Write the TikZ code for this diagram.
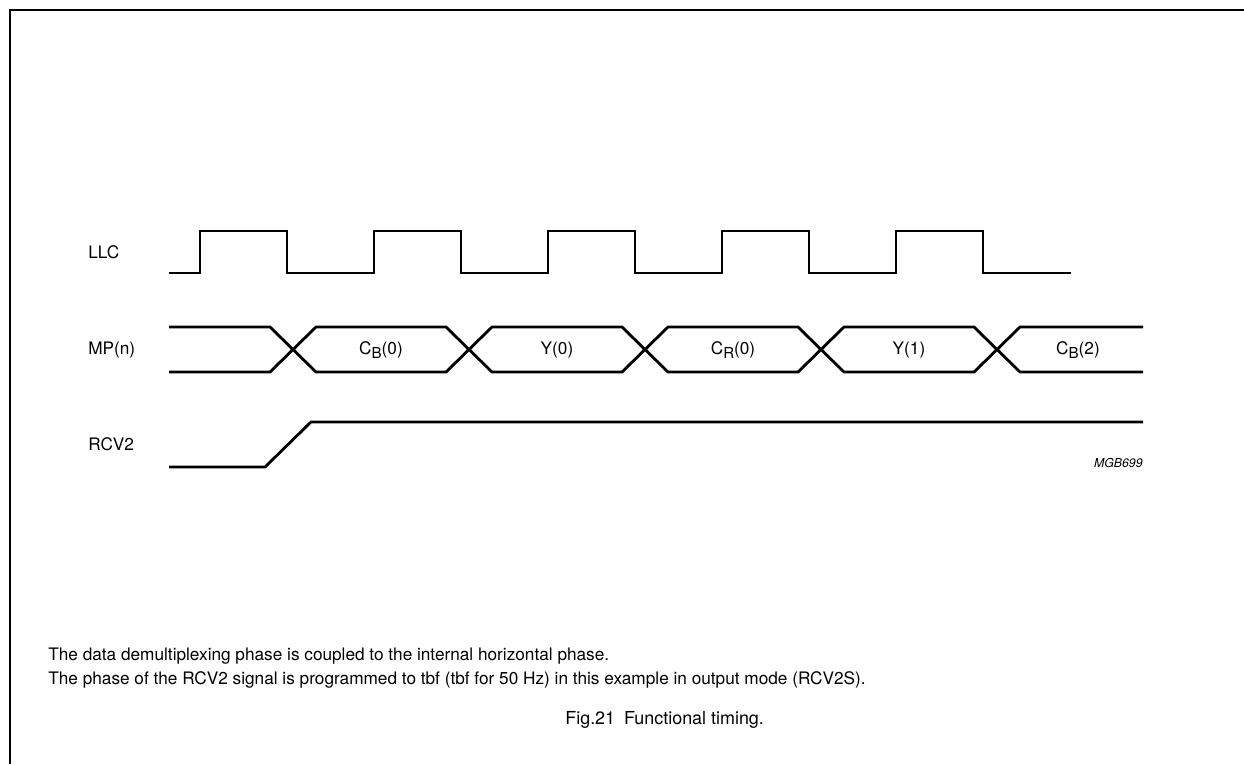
\documentclass[tikz,border=0pt]{standalone}
\usepackage{fontspec}
\setmainfont{TeX Gyre Heros}
\usepackage{tikz}
\usetikzlibrary{positioning}

\newcommand{\busidx}[1]{\raisebox{-0.45ex}{\fontsize{8.6}{10}\selectfont #1}}

\tikzset{
  wave/.style={line width=1.6pt, line join=miter},
  siglabel/.style={anchor=base west, inner sep=0pt, font=\fontsize{9.8}{12}\selectfont},
  buslabel/.style={inner sep=0pt, font=\fontsize{9.8}{12}\selectfont},
  note/.style={anchor=base west, inner sep=0pt, font=\fontsize{9.8}{12}\selectfont}
}

\begin{document}
\begin{tikzpicture}[x=0.02cm, y=-0.02cm]
  \useasboundingbox (0,0) rectangle (1244,764);

  % frame
  \draw[line width=1.6pt] (10,764) -- (10,10) -- (1244,10);

  % signal names
  \node[siglabel] (llc) at (88,258) {LLC};
  \node[siglabel] (mpn) at (88,354) {MP(n)};
  \node[siglabel] (rcv) at (88,450) {RCV2};

  % LLC clock
  \draw[wave] (169,273)
    \foreach \i in {0,...,4} {
      -- ({200+174*\i},273) -- ({200+174*\i},231) -- ({287+174*\i},231) -- ({287+174*\i},273)
    } -- (1071,273);

  % MP(n) data bus
  \draw[wave] (169,327) -- (270,327) -- (293,349.5) -- (270,372) -- (169,372);
  \foreach \i in {0,...,3} {
    \draw[wave] ({293+176*\i},349.5) -- ({316+176*\i},327) -- ({446+176*\i},327) -- ({469+176*\i},349.5)
      -- ({446+176*\i},372) -- ({316+176*\i},372) -- cycle;
  }
  \draw[wave] (1143,327) -- (1020,327) -- (997,349.5) -- (1020,372) -- (1143,372);

  \node[buslabel] (cb0) at (381,350) {C\busidx{B}(0)};
  \node[buslabel] (y0)  at (557,350) {Y(0)};
  \node[buslabel] (cr0) at (733,350) {C\busidx{R}(0)};
  \node[buslabel] (y1)  at (909,350) {Y(1)};
  \node[buslabel] (cb2) at (1078,350) {C\busidx{B}(2)};

  % RCV2
  \draw[wave] (169,467) -- (265,467) -- (311,422) -- (1143,422);

  % figure code
  \node[anchor=base east, inner sep=0pt, font=\fontsize{7}{8}\selectfont\itshape] (code) at (1143,467) {MGB699};

  % notes
  \node[note] (note1) at (48,660) {The data demultiplexing phase is coupled to the internal horizontal phase.};
  \node[note] (note2) at (48,684) {The phase of the RCV2 signal is programmed to tbf (tbf for 50 Hz) in this example in output mode (RCV2S).};

  % caption
  \node[anchor=base west, inner sep=0pt, font=\fontsize{10.2}{12}\selectfont] (cap) at (565,724) {Fig.21\enspace Functional timing.};
\end{tikzpicture}
\end{document}
